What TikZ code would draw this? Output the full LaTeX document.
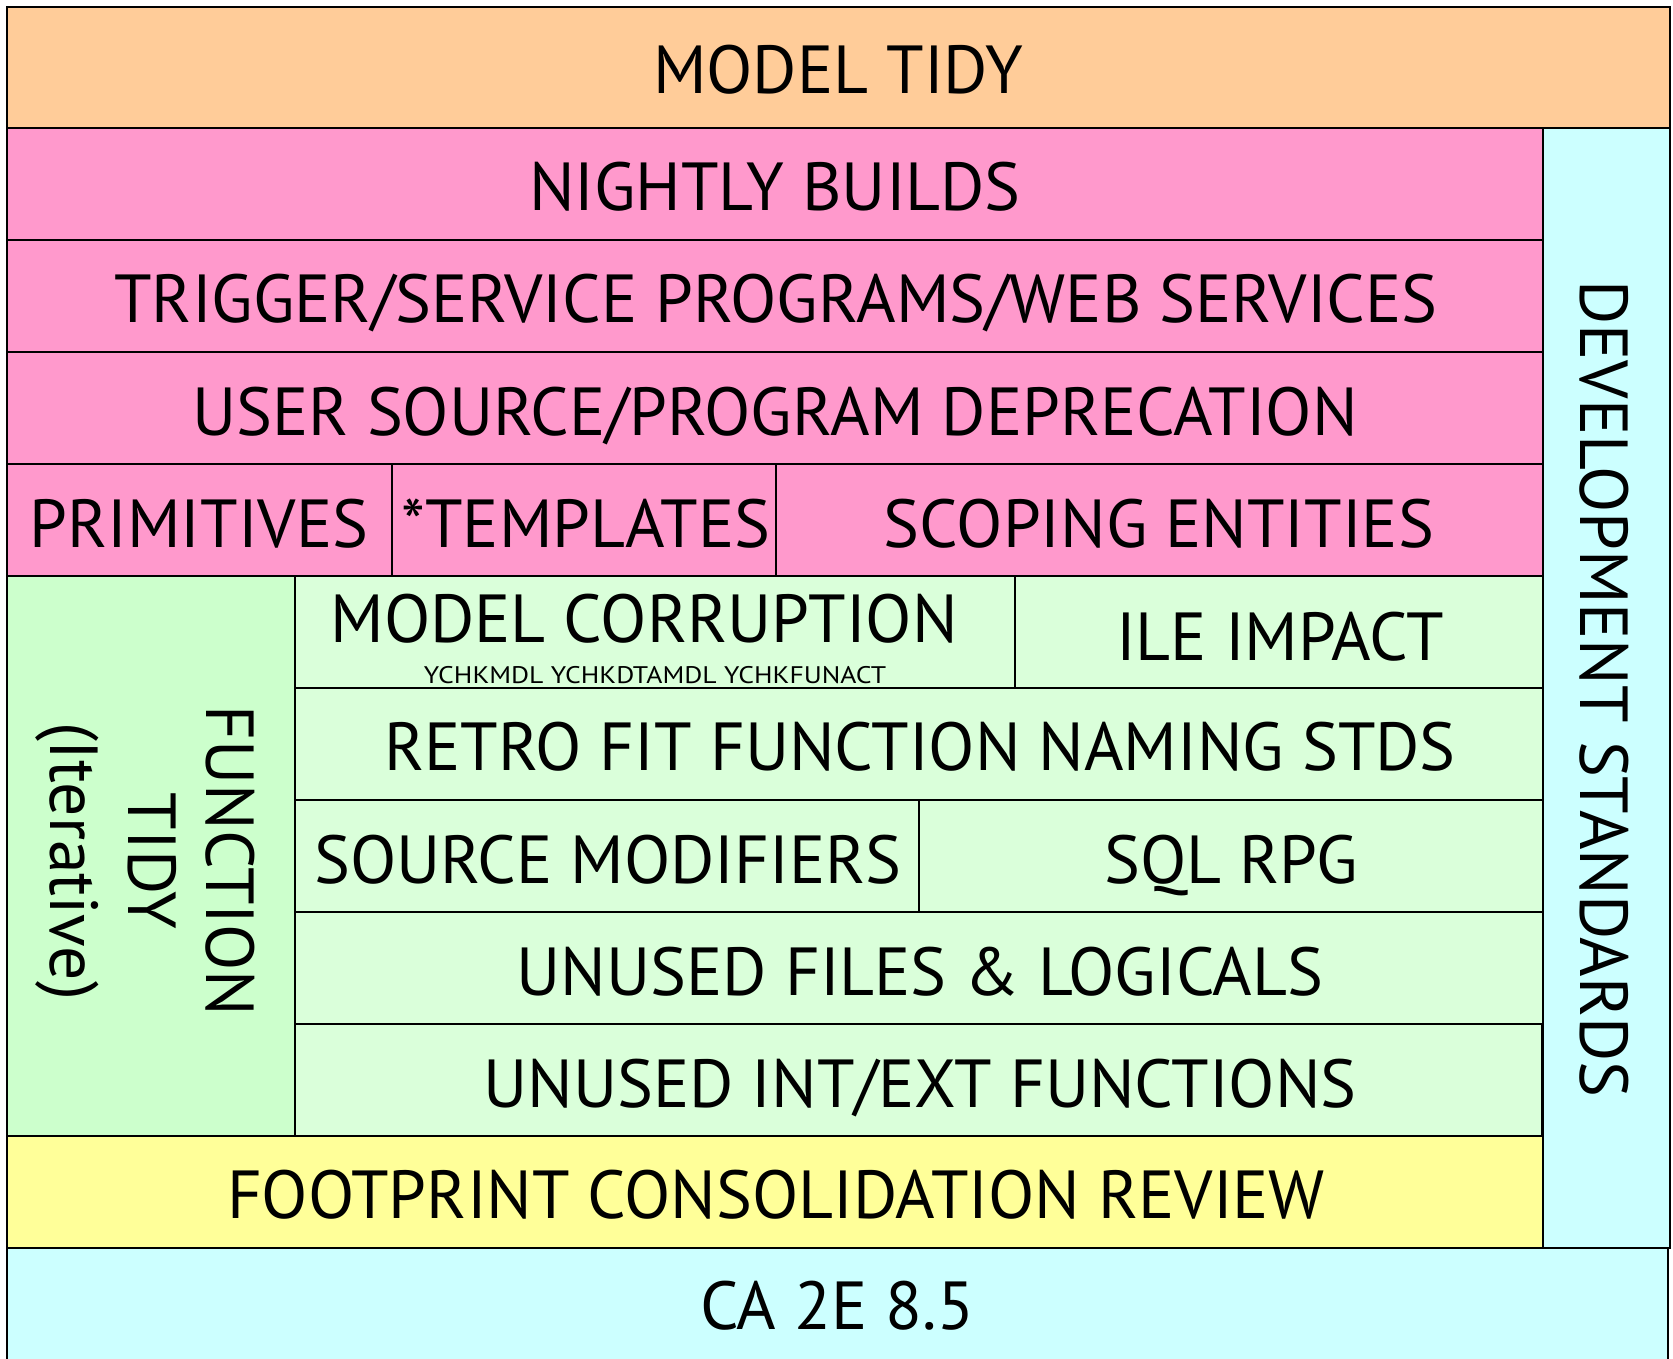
\documentclass[tikz,border=0pt]{standalone}
\usepackage{fontspec}
\setmainfont{PT Sans}[FakeStretch=0.995]
\definecolor{corange}{HTML}{FFCC99}
\definecolor{cpink}{HTML}{FF99CC}
\definecolor{ccyan}{HTML}{CCFFFF}
\definecolor{cgreenA}{HTML}{CCFFCC}
\definecolor{cgreenB}{HTML}{DAFFDA}
\definecolor{cyellow}{HTML}{FFFF99}
\tikzset{
  box/.style={draw=black, line width=0.8pt, inner sep=0pt, outer sep=0pt},
  lbl/.style={font=\fontsize{34}{39}\selectfont, inner sep=0pt, text height=24pt, text depth=0pt},
  small/.style={font=\fontsize{12}{14}\selectfont\addfontfeature{FakeStretch=1.15}, inner sep=0pt},
}
\newcommand\cell[6]{%
  \node[box, fill=#6, minimum width={(#4-#2)*0.5pt}, minimum height={(#5-#3)*0.5pt}]
    (#1) at ({(#2+#4)/2},{(#3+#5)/2}) {};}
\begin{document}
\begin{tikzpicture}[x=0.5pt, y=-0.5pt]
\useasboundingbox (0,0) rectangle (1673,1358);
% boxes
\cell{ca}{7}{1248}{1668}{1364}{ccyan}
\cell{ds}{1543}{128}{1670}{1248}{ccyan}
\cell{mt}{7}{7}{1670}{128}{corange}
\cell{nb}{7}{128}{1543}{240}{cpink}
\cell{tr}{7}{240}{1543}{352}{cpink}
\cell{us}{7}{352}{1543}{464}{cpink}
\cell{pr}{7}{464}{392}{576}{cpink}
\cell{tp}{392}{464}{776}{576}{cpink}
\cell{sc}{776}{464}{1543}{576}{cpink}
\cell{ft}{7}{576}{295}{1136}{cgreenA}
\cell{mc}{295}{576}{1015}{688}{cgreenB}
\cell{ile}{1015}{576}{1543}{688}{cgreenB}
\cell{rf}{295}{688}{1543}{800}{cgreenB}
\cell{sm}{295}{800}{919}{912}{cgreenB}
\cell{sql}{919}{800}{1543}{912}{cgreenB}
\cell{uf}{295}{912}{1543}{1024}{cgreenB}
\cell{ui}{295}{1024}{1542}{1136}{cgreenB}
\cell{fp}{7}{1136}{1543}{1248}{cyellow}
% labels
\node[lbl, anchor=base] (tmt) at (838,94) {MODEL TIDY};
\node[lbl, anchor=base] (tnb) at (775,211) {NIGHTLY BUILDS};
\node[lbl, anchor=base] (ttr) at (776,322) {TRIGGER/SERVICE PROGRAMS/WEB SERVICES};
\node[lbl, anchor=base] (tus) at (775,435) {USER SOURCE/PROGRAM DEPRECATION};
\node[lbl, anchor=base] (tpr) at (199,547) {PRIMITIVES};
\node[lbl, anchor=base] (ttp) at (586,547) {*TEMPLATES};
\node[lbl, anchor=base] (tsc) at (1159,547) {SCOPING ENTITIES};
\node[lbl, anchor=base] (tmc) at (644,642) {MODEL CORRUPTION};
\node[small, anchor=base] (tmcs) at (655,683) {YCHKMDL YCHKDTAMDL YCHKFUNACT};
\node[lbl, anchor=base] (tile) at (1280,660) {ILE IMPACT};
\node[lbl, anchor=base] (trf) at (920,770) {RETRO FIT FUNCTION NAMING STDS};
\node[lbl, anchor=base] (tsm) at (608,883) {SOURCE MODIFIERS};
\node[lbl, anchor=base] (tsql) at (1231,883) {SQL RPG};
\node[lbl, anchor=base] (tuf) at (920,995) {UNUSED FILES \& LOGICALS};
\node[lbl, anchor=base] (tui) at (920,1107) {UNUSED INT/EXT FUNCTIONS};
\node[lbl, anchor=base] (tfp) at (776,1218) {FOOTPRINT CONSOLIDATION REVIEW};
\node[lbl, anchor=base] (tca) at (837,1329) {CA 2E 8.5};
\node[lbl, rotate=-90] (tds) at (1604,689) {DEVELOPMENT STANDARDS};
\node[font=\fontsize{34}{39}\selectfont, inner sep=0pt, align=center, rotate=-90] (tft) at (145,861) {FUNCTION\\TIDY\\(Iterative)};
\end{tikzpicture}
\end{document}
